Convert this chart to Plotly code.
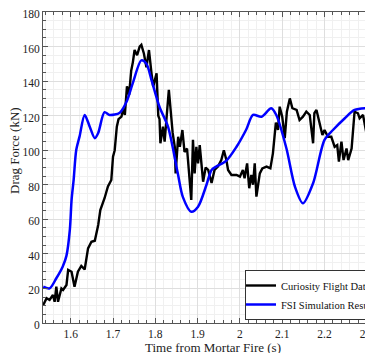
import plotly.graph_objects as go

# Curiosity flight data (time s, drag kN)
flight_t = [1.535, 1.543, 1.550, 1.558, 1.562, 1.566, 1.570, 1.578, 1.582, 1.590,
            1.594, 1.602, 1.609, 1.617, 1.625, 1.633, 1.641, 1.649, 1.657, 1.665,
            1.670, 1.680, 1.688, 1.696, 1.700, 1.704, 1.709, 1.713, 1.720, 1.724,
            1.728, 1.733, 1.738, 1.743, 1.747, 1.751, 1.757, 1.763, 1.767, 1.773,
            1.779, 1.785, 1.791, 1.795, 1.803, 1.807, 1.810, 1.812, 1.818, 1.822,
            1.832, 1.838, 1.841, 1.846, 1.848, 1.854, 1.858, 1.864, 1.869, 1.875,
            1.880, 1.885, 1.889, 1.893, 1.897, 1.901, 1.905, 1.909, 1.913, 1.919,
            1.925, 1.933, 1.940, 1.948, 1.956, 1.962, 1.968, 1.972, 1.980, 1.992,
            2.000, 2.007, 2.011, 2.017, 2.022, 2.027, 2.031, 2.035, 2.039, 2.047,
            2.053, 2.063, 2.072, 2.078, 2.085, 2.090, 2.094, 2.100, 2.106, 2.111,
            2.118, 2.124, 2.134, 2.141, 2.149, 2.157, 2.165, 2.173, 2.176, 2.181,
            2.189, 2.195, 2.200, 2.208, 2.216, 2.224, 2.230, 2.234, 2.240, 2.245,
            2.252, 2.256, 2.264, 2.271, 2.279, 2.283, 2.291, 2.299, 2.303, 2.307,
            2.314]
flight_f = [10.4, 14.3, 13.3, 16.2, 12.3, 21.0, 12.3, 20.0, 19.1, 22.0,
            30.7, 29.7, 21.0, 29.7, 33.0, 31.0, 43.2, 47.0, 47.6, 56.7,
            65.4, 72.2, 79.0, 82.8, 96.3, 100.0, 113.6, 118.0, 119.4, 124.0,
            120.4, 137.0, 132.0, 146.0, 151.0, 158.0, 155.0, 160.0, 161.0, 156.0,
            148.0, 158.0, 144.5, 136.8, 144.5, 120.0, 118.0, 104.0, 113.6, 105.0,
            135.0, 119.0, 110.0, 102.0, 86.6, 107.8, 102.0, 111.7, 99.0, 101.0,
            86.6, 71.2, 106.0, 86.6, 102.0, 92.4, 103.0, 94.3, 81.8, 90.0,
            88.6, 81.0, 88.6, 90.5, 94.3, 100.0, 94.3, 88.6, 85.7, 85.7,
            84.7, 88.6, 83.8, 92.4, 78.0, 85.7, 80.0, 92.4, 73.1, 86.6,
            89.5, 90.5, 89.5, 98.2, 116.0, 111.7, 125.2, 119.4, 107.0, 122.3,
            130.0, 124.3, 123.3, 117.5, 119.4, 122.3, 120.4, 104.0, 121.4, 123.3,
            115.6, 108.8, 111.7, 107.8, 107.8, 102.0, 103.0, 93.4, 104.9, 94.3,
            101.0, 94.3, 101.0, 122.3, 121.4, 118.5, 120.4, 109.8, 127.0, 128.0,
            134.0]

# FSI simulation results
fsi_t = [1.535, 1.550, 1.566, 1.581, 1.590, 1.598, 1.602, 1.607, 1.613, 1.621,
         1.633, 1.645, 1.657, 1.665, 1.680, 1.692, 1.716, 1.732, 1.747, 1.767,
         1.779, 1.791, 1.810, 1.830, 1.853, 1.865, 1.885, 1.901, 1.921, 1.933,
         1.944, 1.968, 1.992, 2.015, 2.031, 2.051, 2.074, 2.086, 2.110, 2.130,
         2.149, 2.173, 2.200, 2.220, 2.248, 2.271, 2.314]
fsi_f = [21.0, 20.0, 25.9, 32.6, 39.0, 54.0, 71.0, 83.0, 100.0, 108.0,
         120.4, 113.6, 107.0, 110.0, 122.0, 120.4, 121.7, 128.0, 139.0, 152.0,
         150.0, 140.6, 125.0, 113.6, 86.8, 73.0, 64.4, 67.3, 80.0, 88.6,
         90.5, 94.0, 102.0, 112.0, 120.4, 119.4, 124.3, 120.4, 101.0, 79.0,
         69.3, 80.9, 106.0, 111.7, 118.5, 123.3, 124.6]

x_ticks = [1.6, 1.7, 1.8, 1.9, 2.0, 2.1, 2.2, 2.3]
x_labels = ["1.6", "1.7", "1.8", "1.9", "2", "2.1", "2.2", "2.3"]
y_ticks = [0, 20, 40, 60, 80, 100, 120, 140, 160, 180]

FONT = "Liberation Serif"
W, H = 373, 353
OFF = 8  # page body margin offset
# plot area in page pixels: x 43..373, y 12..323
L = 43 - OFF
T = 12 - OFF
R = W - (373 - OFF)
B = H - (323 - OFF)
PW, PH = W - L - R, H - T - B

fig = go.Figure()
fig.add_trace(go.Scatter(x=flight_t, y=flight_f, mode="lines",
                         name="Curiosity Flight Data",
                         line=dict(color="#000000", width=2.4)))
fig.add_trace(go.Scatter(x=fsi_t, y=fsi_f, mode="lines",
                         name="FSI Simulation Results",
                         line=dict(color="#0000ff", width=2.5, shape="spline", smoothing=0.8)))

axis_common = dict(
    showline=True, linecolor="#555555", linewidth=1, mirror="ticks",
    ticks="inside", ticklen=5, tickcolor="#555555",
    showgrid=True, gridcolor="#dedede", gridwidth=1,
    zeroline=False, ticklabeloverflow="allow",
    tickfont=dict(family=FONT, size=11.5, color="#222222"),
)

fig.update_xaxes(range=[1.5345, 2.3146], tickvals=x_ticks, ticktext=x_labels,
                 minor=dict(dtick=0.02, tick0=1.6, ticks="inside", ticklen=3,
                            tickcolor="#555555", showgrid=True, gridcolor="#f0f0f0"),
                 **axis_common)
fig.update_yaxes(range=[0, 180], tickvals=y_ticks, ticklabelshift=2,
                 minor=dict(dtick=5, tick0=0, ticks="inside", ticklen=3,
                            tickcolor="#555555", showgrid=True, gridcolor="#f0f0f0"),
                 **axis_common)


def px_x(p):
    return (p - OFF - L) / PW


def px_y(p):
    return (H - B - (p - OFF)) / PH


fig.add_annotation(text="Drag Force (kN)", xref="paper", yref="paper",
                   x=px_x(14), y=px_y(151), textangle=-90,
                   showarrow=False, xanchor="center", yanchor="middle",
                   font=dict(family=FONT, size=13, color="#222222"))
fig.add_annotation(text="Time from Mortar Fire (s)", xref="paper", yref="paper",
                   x=px_x(213), y=px_y(347), showarrow=False,
                   xanchor="center", yanchor="middle",
                   font=dict(family=FONT, size=13, color="#222222"))

fig.update_layout(
    width=W, height=H,
    margin=dict(l=L, r=R, t=T, b=B, autoexpand=False),
    plot_bgcolor="white", paper_bgcolor="white",
    showlegend=True,
    legend=dict(x=px_x(245), y=px_y(320), xanchor="left", yanchor="bottom",
                bgcolor="white", bordercolor="#333333", borderwidth=1,
                font=dict(family=FONT, size=10.5, color="#111111"),
                itemwidth=30, tracegroupgap=0, indentation=-5),
)

fig.write_html("out.html")
